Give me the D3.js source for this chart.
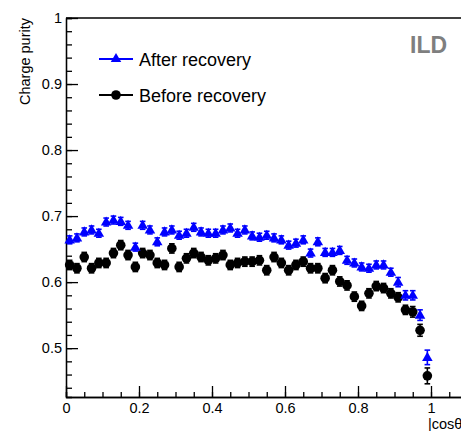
<!DOCTYPE html>
<html>
<head>
<meta charset="utf-8">
<title>Charge purity</title>
<style>
    body {
        padding: 0;
        margin: 0;
        background: white;
        font-family: "Liberation Sans", Arial, sans-serif;
    }
    .axis path, .axis line {
        stroke: black;
        stroke-width: 1.3;
    }
    .axis text {
        font-family: "Liberation Sans", Arial, sans-serif;
        font-size: 14.5px;
        fill: black;
    }
</style>
</head>
<body>
<div id="chart"></div>
<script src="https://d3js.org/d3.v7.min.js"></script>
<script>
// bin centres in |cos theta|
var binCenters = [0.01, 0.03, 0.05, 0.07, 0.09, 0.11, 0.13, 0.15, 0.17, 0.19,
                  0.21, 0.23, 0.25, 0.27, 0.29, 0.31, 0.33, 0.35, 0.37, 0.39,
                  0.41, 0.43, 0.45, 0.47, 0.49, 0.51, 0.53, 0.55, 0.57, 0.59,
                  0.61, 0.63, 0.65, 0.67, 0.69, 0.71, 0.73, 0.75, 0.77, 0.79,
                  0.81, 0.83, 0.85, 0.87, 0.89, 0.91, 0.93, 0.95, 0.97, 0.99];

var afterRecovery = [0.664, 0.667, 0.676, 0.679, 0.674, 0.691, 0.694, 0.692, 0.686, 0.653,
                     0.686, 0.679, 0.661, 0.676, 0.679, 0.671, 0.674, 0.683, 0.676, 0.674,
                     0.674, 0.679, 0.682, 0.674, 0.679, 0.670, 0.668, 0.671, 0.667, 0.664,
                     0.656, 0.659, 0.664, 0.644, 0.661, 0.645, 0.645, 0.648, 0.633, 0.629,
                     0.623, 0.621, 0.626, 0.626, 0.615, 0.600, 0.580, 0.580, 0.550, 0.486];

var afterErr = [0.006, 0.006, 0.006, 0.006, 0.006, 0.006, 0.006, 0.006, 0.006, 0.006,
                0.006, 0.006, 0.006, 0.006, 0.006, 0.006, 0.006, 0.006, 0.006, 0.006,
                0.006, 0.006, 0.006, 0.006, 0.006, 0.006, 0.006, 0.006, 0.006, 0.006,
                0.006, 0.006, 0.006, 0.006, 0.006, 0.006, 0.006, 0.006, 0.006, 0.006,
                0.006, 0.006, 0.006, 0.006, 0.006, 0.007, 0.007, 0.007, 0.008, 0.011];

var beforeRecovery = [0.626, 0.621, 0.638, 0.621, 0.629, 0.629, 0.644, 0.656, 0.641, 0.623,
                      0.644, 0.641, 0.629, 0.626, 0.651, 0.623, 0.636, 0.644, 0.638, 0.633,
                      0.636, 0.641, 0.626, 0.629, 0.631, 0.631, 0.633, 0.618, 0.638, 0.629,
                      0.618, 0.626, 0.631, 0.621, 0.621, 0.606, 0.618, 0.601, 0.595, 0.578,
                      0.564, 0.583, 0.594, 0.591, 0.583, 0.577, 0.558, 0.555, 0.527, 0.458];

var beforeErr = [0.007, 0.007, 0.007, 0.007, 0.007, 0.007, 0.007, 0.007, 0.007, 0.007,
                 0.007, 0.007, 0.007, 0.007, 0.007, 0.007, 0.007, 0.007, 0.007, 0.007,
                 0.007, 0.007, 0.007, 0.007, 0.007, 0.007, 0.007, 0.007, 0.007, 0.007,
                 0.007, 0.007, 0.007, 0.007, 0.007, 0.007, 0.007, 0.007, 0.007, 0.007,
                 0.007, 0.007, 0.007, 0.007, 0.007, 0.007, 0.007, 0.008, 0.009, 0.012];

var xMajorTicks = [0, 0.2, 0.4, 0.6, 0.8, 1];
var yMajorTicks = [0.5, 0.6, 0.7, 0.8, 0.9, 1];

var width = 461,
    height = 431;

var svg = d3.select("#chart")
    .append("svg")
    .attr("width", width)
    .attr("height", height);

// frame: left edge 66, bottom 397, top 18; right side runs off the picture
var x = d3.scaleLinear().domain([0, 1.1]).range([66, 467.5]);
var y = d3.scaleLinear().domain([0.426, 1]).range([397, 18]);

// minor ticks
var xMinor = d3.range(0, 22).map(function (i) { return i * 0.05; });
var yMinor = d3.range(22, 51).map(function (i) { return i * 0.02; });

svg.append("g")
    .attr("class", "axis")
    .attr("transform", "translate(0,397)")
    .call(d3.axisBottom(x).tickValues(xMinor).tickSize(-5).tickFormat(""));

svg.append("g")
    .attr("class", "axis")
    .attr("transform", "translate(0,397)")
    .call(d3.axisBottom(x).tickValues(xMajorTicks).tickSizeInner(-11).tickSizeOuter(0)
        .tickPadding(3).tickFormat(function (d) { return d3.format("")(d); }))
    .selectAll("text").attr("dy", "0.9em");

svg.append("g")
    .attr("class", "axis")
    .attr("transform", "translate(66,0)")
    .call(d3.axisLeft(y).tickValues(yMinor).tickSize(-6).tickFormat(""));

svg.append("g")
    .attr("class", "axis")
    .attr("transform", "translate(66,0)")
    .call(d3.axisLeft(y).tickValues(yMajorTicks).tickSizeInner(-12).tickSizeOuter(0)
        .tickPadding(4).tickFormat(function (d) { return d3.format("")(d); }));

// top frame line
svg.append("line")
    .attr("x1", x(0)).attr("x2", width)
    .attr("y1", y(1)).attr("y2", y(1))
    .attr("stroke", "black")
    .attr("stroke-width", 1.3);

// axis titles
svg.append("text")
    .attr("transform", "translate(30," + y(1) + ") rotate(-90)")
    .attr("text-anchor", "end")
    .style("font-size", "14.5px")
    .text("Charge purity");

svg.append("text")
    .attr("x", 428)
    .attr("y", 429)
    .style("font-size", "14.5px")
    .text("|cosθ|");

svg.append("text")
    .attr("x", 410)
    .attr("y", 53)
    .style("font-size", "23px")
    .style("font-weight", "bold")
    .style("fill", "#7f7f7f")
    .text("ILD");

var triangle = d3.symbol().type(d3.symbolTriangle).size(48);

function drawSeries(values, errs, color, marker) {
    var g = svg.append("g");
    var pts = binCenters.map(function (c, i) {
        return { x: c, y: values[i], e: errs[i] };
    });

    g.selectAll("line.bar")
        .data(pts)
        .enter()
        .append("line")
        .attr("x1", function (d) { return x(d.x); })
        .attr("x2", function (d) { return x(d.x); })
        .attr("y1", function (d) { return y(d.y - d.e); })
        .attr("y2", function (d) { return y(d.y + d.e); })
        .attr("stroke", color)
        .attr("stroke-width", 1.6);

    [-1, 1].forEach(function (s) {
        g.selectAll(null)
            .data(pts)
            .enter()
            .append("line")
            .attr("x1", function (d) { return x(d.x) - 2.8; })
            .attr("x2", function (d) { return x(d.x) + 2.8; })
            .attr("y1", function (d) { return y(d.y + s * d.e); })
            .attr("y2", function (d) { return y(d.y + s * d.e); })
            .attr("stroke", color)
            .attr("stroke-width", 1.6);
    });

    if (marker === "circle") {
        g.selectAll("circle")
            .data(pts)
            .enter()
            .append("circle")
            .attr("cx", function (d) { return x(d.x); })
            .attr("cy", function (d) { return y(d.y); })
            .attr("r", 4.8)
            .attr("fill", color);
    } else {
        g.selectAll("path")
            .data(pts)
            .enter()
            .append("path")
            .attr("d", triangle)
            .attr("transform", function (d) { return "translate(" + x(d.x) + "," + (y(d.y) + 0.5) + ")"; })
            .attr("fill", color);
    }
}

drawSeries(beforeRecovery, beforeErr, "black", "circle");
drawSeries(afterRecovery, afterErr, "#0000ff", "triangle");

// legend
var legend = [
    { label: "After recovery", color: "#0000ff", marker: "triangle", y: 59 },
    { label: "Before recovery", color: "black", marker: "circle", y: 95 }
];

legend.forEach(function (l) {
    svg.append("line")
        .attr("x1", 99).attr("x2", 133)
        .attr("y1", l.y).attr("y2", l.y)
        .attr("stroke", l.color)
        .attr("stroke-width", 2);
    if (l.marker === "circle") {
        svg.append("circle")
            .attr("cx", 116).attr("cy", l.y).attr("r", 4.8)
            .attr("fill", l.color);
    } else {
        svg.append("path")
            .attr("d", triangle)
            .attr("transform", "translate(116," + l.y + ")")
            .attr("fill", l.color);
    }
    svg.append("text")
        .attr("x", 139)
        .attr("y", l.y + 7)
        .style("font-size", "18px")
        .text(l.label);
});
</script>
</body>
</html>
